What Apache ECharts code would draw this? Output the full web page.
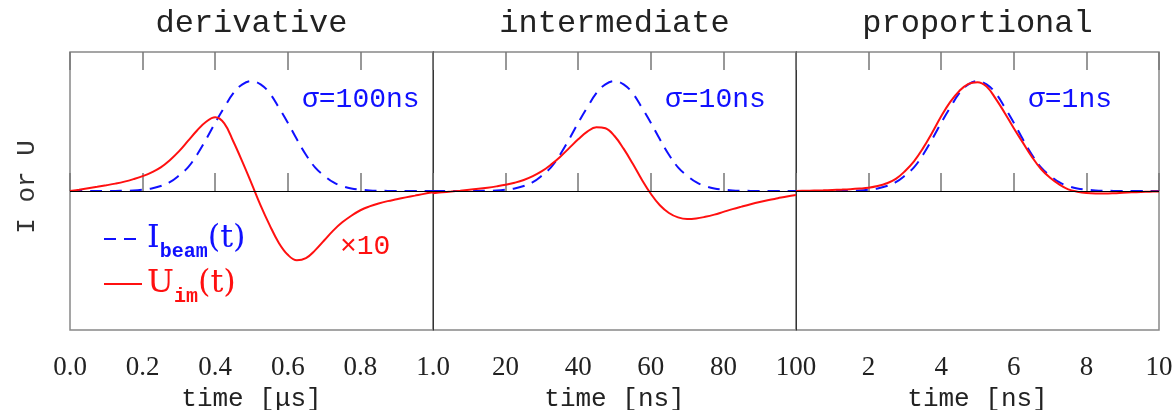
<!DOCTYPE html>
<html>
<head>
<meta charset="utf-8">
<script src="https://cdn.jsdelivr.net/npm/echarts@6/dist/echarts.min.js"></script>
<style>
  html, body { margin: 0; padding: 0; background: #fff; }
  #chart { width: 1174px; height: 410px; }
</style>
</head>
<body>
<div id="chart"></div>
<script>
// panel titles, axis names, pulse widths
var panelTitles = ['derivative', 'intermediate', 'proportional'];
var axisNames = ['time [\u03bcs]', 'time [ns]', 'time [ns]'];
var sigmaLabels = ['\u03c3=100ns', '\u03c3=10ns', '\u03c3=1ns'];
var axisMax = [1, 100, 10];
var axisStep = [0.2, 20, 2];

// sample times of each panel (41 points each)
var tDer = [0,0.025,0.05,0.075,0.1,0.125,0.15,0.175,0.2,0.225,0.25,0.275,0.3,0.325,0.35,0.375,0.4,0.425,0.45,0.475,0.5,
            0.525,0.55,0.575,0.6,0.625,0.65,0.675,0.7,0.725,0.75,0.775,0.8,0.825,0.85,0.875,0.9,0.925,0.95,0.975,1.0];
var tInt = [0,2.5,5,7.5,10,12.5,15,17.5,20,22.5,25,27.5,30,32.5,35,37.5,40,42.5,45,47.5,50,
            52.5,55,57.5,60,62.5,65,67.5,70,72.5,75,77.5,80,82.5,85,87.5,90,92.5,95,97.5,100];
var tPro = [0,0.25,0.5,0.75,1,1.25,1.5,1.75,2,2.25,2.5,2.75,3,3.25,3.5,3.75,4,4.25,4.5,4.75,5,
            5.25,5.5,5.75,6,6.25,6.5,6.75,7,7.25,7.5,7.75,8,8.25,8.5,8.75,9,9.25,9.5,9.75,10];

// beam current (dashed blue)
var beamDer = [0,0,0,0,0,0.001,0.002,0.005,0.012,0.023,0.045,0.08,0.14,0.215,0.33,0.47,0.62,0.76,0.89,0.97,1.0,
               0.97,0.89,0.76,0.62,0.47,0.33,0.215,0.14,0.08,0.045,0.023,0.012,0.005,0.002,0.001,0,0,0,0,0];
var beamInt = [0,0,0,0,0,0.001,0.002,0.005,0.012,0.023,0.045,0.08,0.14,0.215,0.33,0.47,0.62,0.76,0.89,0.97,1.0,
               0.97,0.89,0.76,0.62,0.47,0.33,0.215,0.14,0.08,0.045,0.023,0.012,0.005,0.002,0.001,0,0,0,0,0];
var beamPro = [0,0,0,0,0,0.001,0.002,0.005,0.012,0.023,0.045,0.08,0.14,0.215,0.33,0.47,0.62,0.76,0.89,0.97,1.0,
               0.97,0.89,0.76,0.62,0.47,0.33,0.215,0.14,0.08,0.045,0.023,0.012,0.005,0.002,0.001,0,0,0,0,0];

// image current signal (solid red)
var uDer = [0,0.012,0.025,0.038,0.052,0.067,0.085,0.108,0.135,0.17,0.215,0.28,0.36,0.455,0.55,0.63,0.67,0.615,0.45,0.265,0.07,
            -0.13,-0.31,-0.47,-0.58,-0.63,-0.61,-0.54,-0.45,-0.36,-0.285,-0.225,-0.175,-0.14,-0.113,-0.092,-0.075,-0.058,-0.042,-0.026,-0.012];
var uInt = [-0.02,-0.012,-0.005,0.003,0.012,0.02,0.03,0.042,0.056,0.075,0.1,0.135,0.18,0.24,0.31,0.39,0.47,0.54,0.58,0.57,0.5,
            0.385,0.25,0.105,-0.025,-0.13,-0.2,-0.24,-0.255,-0.25,-0.235,-0.215,-0.19,-0.165,-0.142,-0.12,-0.1,-0.082,-0.066,-0.05,-0.036];
var uPro = [0,0.002,0.004,0.006,0.009,0.012,0.016,0.022,0.03,0.045,0.07,0.11,0.18,0.27,0.39,0.53,0.68,0.81,0.91,0.975,0.99,
            0.95,0.84,0.71,0.57,0.44,0.31,0.2,0.12,0.06,0.015,-0.006,-0.018,-0.022,-0.022,-0.02,-0.016,-0.012,-0.009,-0.006,-0.004];

var times = [tDer, tInt, tPro];
var beams = [beamDer, beamInt, beamPro];
var sigs = [uDer, uInt, uPro];

var BLUE = '#1010ff', RED = '#ff1010', TXT = '#222';
var gx = [70, 433, 796], gw = 363, gtop = 52, gh = 278;

function pairs(t, v) { return t.map(function (x, i) { return [x, v[i]]; }); }

var chart = echarts.init(document.getElementById('chart'), null, { renderer: 'canvas' });

var grids = [], xAxes = [], yAxes = [], series = [], graphics = [];
for (let i = 0; i < 3; i++) {
    grids.push({ left: gx[i], top: gtop, width: gw, height: gh, show: true,
                 outerBoundsMode: 'none', containLabel: false,
                 borderColor: '#888', borderWidth: 1.5 });
    xAxes.push({
        gridIndex: i, type: 'value', min: 0, max: axisMax[i], interval: axisStep[i],
        position: 'bottom',
        axisLine: { show: false },
        axisTick: { inside: true, length: 18, lineStyle: { color: '#777', width: 1.5 } },
        axisLabel: {
            margin: 24, color: TXT, fontFamily: 'Liberation Serif', fontSize: 27,
            formatter: function (v) {
                if (i === 0) return v.toFixed(1);
                return v === 0 ? '' : String(v);
            }
        },
        splitLine: { show: false },
        name: axisNames[i], nameLocation: 'middle', nameGap: 52,
        nameTextStyle: { color: TXT, fontFamily: 'Liberation Mono', fontSize: 26 }
    });
    xAxes.push({
        gridIndex: i, type: 'value', min: 0, max: axisMax[i], interval: axisStep[i],
        position: 'top',
        axisLine: { show: false },
        axisTick: { inside: true, length: 18, lineStyle: { color: '#777', width: 1.5 } },
        axisLabel: { show: false },
        splitLine: { show: false }
    });
    var ya = {
        gridIndex: i, type: 'value', min: -1.264, max: 1.264,
        axisLabel: { show: false }, axisTick: { show: false }, splitLine: { show: false },
        axisLine: { show: i > 0, lineStyle: { color: '#333', width: 1 } }
    };
    if (i === 0) {
        ya.name = 'I or U';
        ya.nameLocation = 'middle';
        ya.nameGap = 30;
        ya.nameTextStyle = { color: '#333', fontFamily: 'Liberation Mono', fontSize: 26, padding: [0, 0, 0, 8] };
    }
    yAxes.push(ya);

    series.push({
        type: 'line', name: 'beam', xAxisIndex: i * 2, yAxisIndex: i,
        data: pairs(times[i], beams[i]), smooth: 0.4, symbol: 'none', z: 3,
        lineStyle: { color: BLUE, width: 2, type: [12, 8] }, itemStyle: { color: BLUE }
    });
    series.push({
        type: 'line', name: 'im', xAxisIndex: i * 2, yAxisIndex: i,
        data: pairs(times[i], sigs[i]), smooth: 0.4, symbol: 'none', z: 4,
        lineStyle: { color: RED, width: 2 }, itemStyle: { color: RED },
        markLine: {
            silent: true, symbol: ['none', 'none'], label: { show: false },
            lineStyle: { color: '#000', width: 1, type: 'solid' },
            data: [{ yAxis: 0 }], animation: false
        }
    });

    graphics.push({
        type: 'text', x: gx[i] + gw / 2, y: 24,
        style: { text: panelTitles[i], fill: TXT, font: '32px "Liberation Mono"',
                 textAlign: 'center', textVerticalAlign: 'middle' }
    });
    graphics.push({
        type: 'text', x: gx[i] + 232, y: 100,
        style: { text: sigmaLabels[i], fill: BLUE, font: '28px "Liberation Mono"',
                 textAlign: 'left', textVerticalAlign: 'middle' }
    });
}
graphics.push({
    type: 'text', x: 340, y: 247,
    style: { text: '\u00d710', fill: RED, font: '28px "Liberation Mono"',
             textAlign: 'left', textVerticalAlign: 'middle' }
});

chart.setOption({
    animation: false,
    backgroundColor: '#fff',
    grid: grids,
    xAxis: xAxes,
    yAxis: yAxes,
    legend: {
        orient: 'vertical', left: 98, top: 218, itemWidth: 38, itemHeight: 14, itemGap: 6,
        selectedMode: false,
        itemStyle: { color: 'rgba(0,0,0,0)', borderWidth: 0, opacity: 0 },
        data: [{ name: 'beam' }, { name: 'im' }],
        formatter: function (name) {
            return name === 'beam' ? '{nb|I}{sb|beam}{nb|(t)}' : '{nr|U}{sr|im}{nr|(t)}';
        },
        textStyle: {
            rich: {
                nb: { color: BLUE, fontFamily: 'DejaVu Serif', fontSize: 32, lineHeight: 46, verticalAlign: 'middle' },
                sb: { color: BLUE, fontFamily: 'Liberation Mono', fontWeight: 'bold', fontSize: 20, verticalAlign: 'bottom', lineHeight: 20 },
                nr: { color: RED, fontFamily: 'DejaVu Serif', fontSize: 32, lineHeight: 46, verticalAlign: 'middle' },
                sr: { color: RED, fontFamily: 'Liberation Mono', fontWeight: 'bold', fontSize: 20, verticalAlign: 'bottom', lineHeight: 20 }
            }
        }
    },
    graphic: graphics,
    series: series
});
</script>
</body>
</html>
